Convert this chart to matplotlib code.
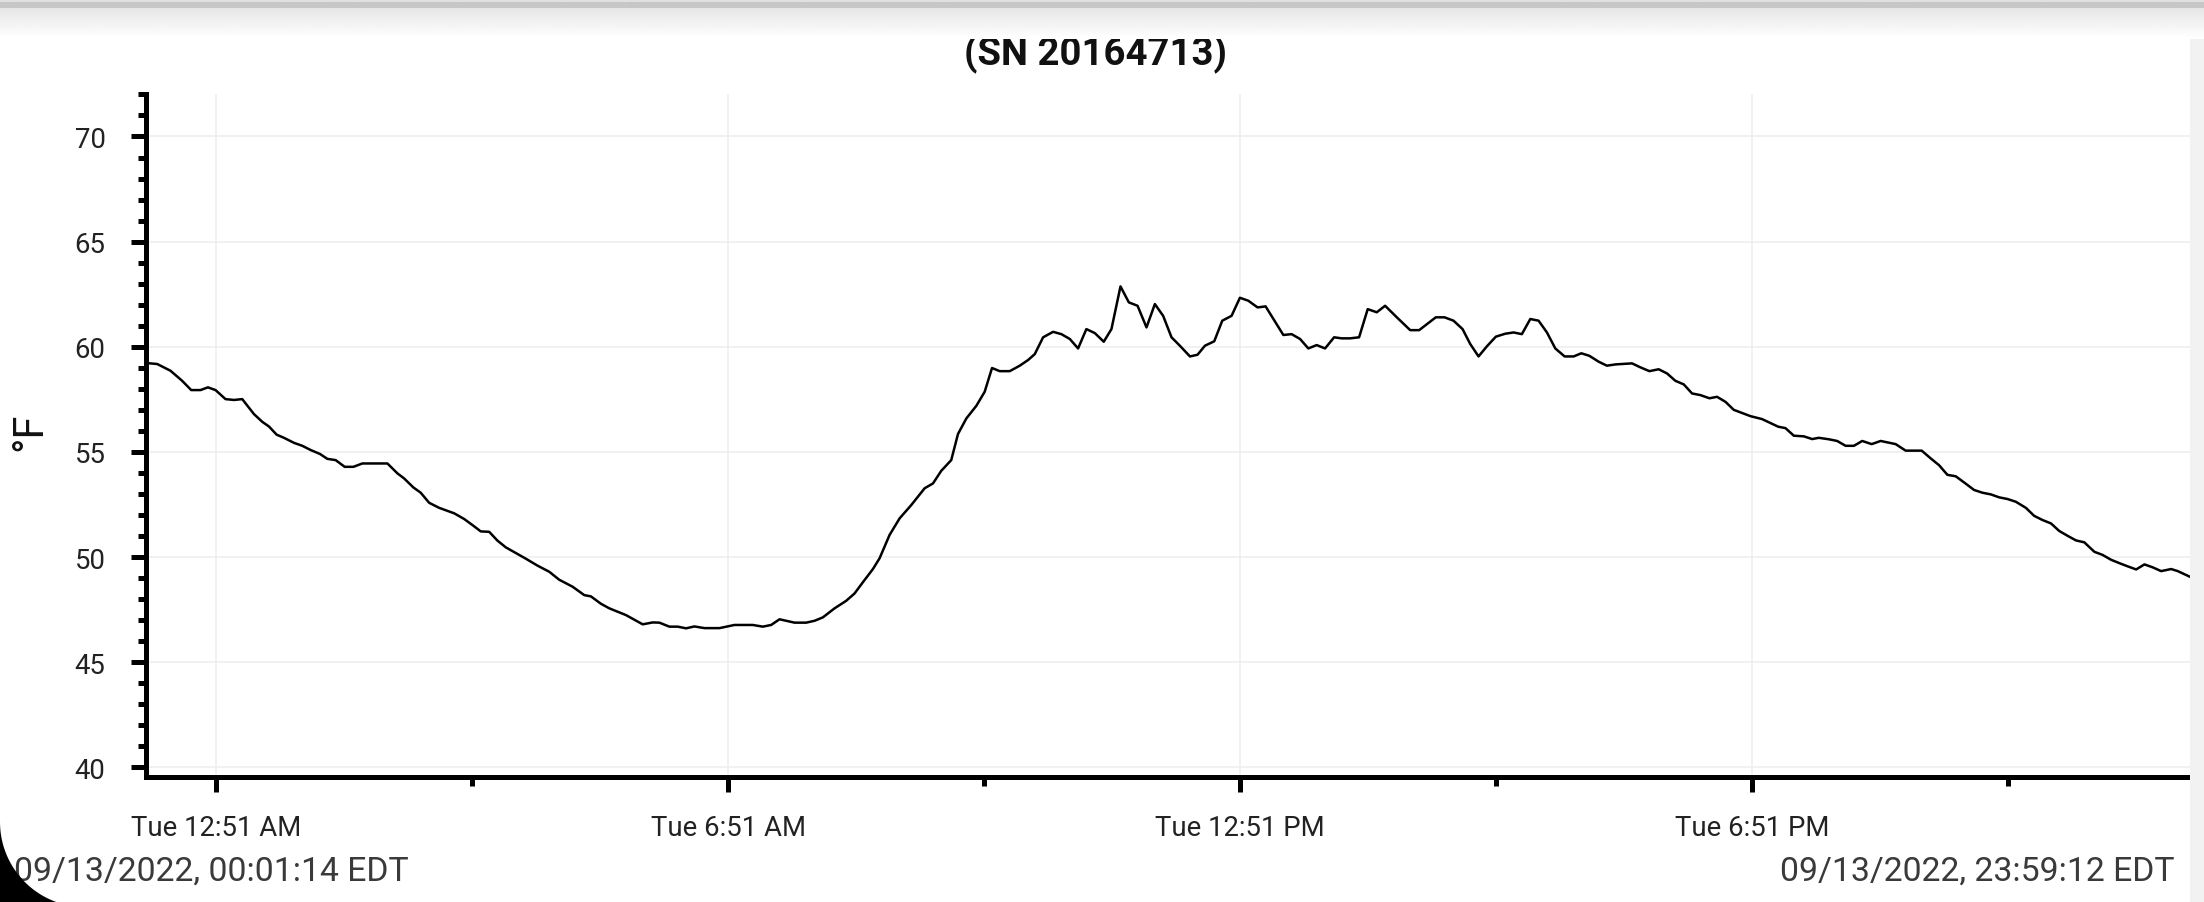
import matplotlib.pyplot as plt
import numpy as np
from matplotlib.patches import Rectangle, Polygon

plt.rcParams["font.family"] = ["Roboto", "DejaVu Sans"]

# hours since midnight, 09/13/2022
hours = [
    0.021, 0.158, 0.314, 0.451, 0.557, 0.666, 0.753, 0.842, 0.959, 1.058,
    1.155, 1.292, 1.39, 1.468, 1.558, 1.644, 1.762, 1.859, 1.957, 2.067,
    2.152, 2.25, 2.356, 2.458, 2.563, 2.857, 2.974, 3.052, 3.161, 3.247,
    3.346, 3.463, 3.639, 3.756, 3.854, 3.951, 4.05, 4.147, 4.245, 4.362,
    4.48,
    4.617, 4.754, 4.871, 5.027, 5.164, 5.242, 5.359, 5.458, 5.653, 5.849,
    5.966, 6.045, 6.162, 6.26, 6.357, 6.455, 6.573, 6.749, 6.925, 7.14,
    7.257, 7.355, 7.453, 7.629, 7.766, 7.864, 7.961, 8.098, 8.235, 8.333,
    8.43, 8.548, 8.626, 8.743, 8.861, 8.997, 9.154, 9.252, 9.349, 9.466,
    9.545, 9.643, 9.76, 9.858, 9.944, 10.034, 10.152, 10.269, 10.367, 10.445,
    10.543, 10.66, 10.757, 10.856, 10.953, 11.05, 11.149, 11.254, 11.344, 11.45,
    11.548, 11.65, 11.755, 11.853, 11.95, 12.048, 12.146, 12.264, 12.353, 12.44,
    12.549, 12.643, 12.752, 12.85, 12.948, 13.057, 13.151, 13.359, 13.456, 13.555,
    13.652, 13.75, 13.848, 13.954, 14.043,
    14.141, 14.247, 14.348, 14.454, 14.552, 14.689, 14.846, 14.951, 15.146, 15.248,
    15.354, 15.46, 15.55, 15.647, 15.745, 15.85, 15.96, 16.058, 16.155, 16.254,
    16.351, 16.449, 16.547, 16.656, 16.762, 16.852, 16.946, 17.055, 17.152, 17.251,
    17.446, 17.545, 17.65, 17.759, 17.857, 17.955, 18.053, 18.15, 18.249, 18.354,
    18.443, 18.542, 18.639, 18.737, 18.835,
    18.971, 19.069, 19.159, 19.245, 19.343, 19.46, 19.558, 19.636, 19.754, 19.851,
    19.95, 20.047, 20.145, 20.255, 20.361, 20.537, 20.654, 20.842, 20.948, 21.045,
    21.143, 21.241, 21.358, 21.456, 21.553, 21.652, 21.749, 21.847, 21.945, 22.063,
    22.16, 22.258, 22.357, 22.454, 22.552, 22.651, 22.748, 22.866, 22.963, 23.062,
    23.159, 23.255, 23.356, 23.453, 23.55, 23.649, 23.766, 23.844, 23.987,
]

temps_f = [
    59.23, 59.18, 58.86, 58.38, 57.94, 57.94, 58.07, 57.94, 57.51, 57.47,
    57.51, 56.80, 56.43, 56.21, 55.82, 55.67, 55.43, 55.29, 55.09, 54.90,
    54.67, 54.61, 54.29, 54.29, 54.45, 54.45, 53.98, 53.74, 53.31, 53.06,
    52.58, 52.34, 52.08, 51.81, 51.52, 51.22, 51.20, 50.78, 50.46, 50.19,
    49.92,
    49.59, 49.30, 48.92, 48.59, 48.19, 48.13, 47.78, 47.56, 47.24, 46.80,
    46.89, 46.88, 46.69, 46.69, 46.61, 46.70, 46.62, 46.62, 46.77, 46.77,
    46.69, 46.77, 47.04, 46.88, 46.88, 46.97, 47.13, 47.56, 47.92, 48.27,
    48.80, 49.43, 49.94, 51.05, 51.84, 52.47, 53.27, 53.50, 54.10, 54.61,
    55.85, 56.59, 57.19, 57.86, 58.99, 58.84, 58.84, 59.10, 59.37, 59.65,
    60.45, 60.71, 60.60, 60.37, 59.92, 60.84, 60.65, 60.24, 60.84, 62.87,
    62.11, 61.95, 60.92, 62.03, 61.47, 60.45, 60.05, 59.54, 59.62, 60.05,
    60.26, 61.24, 61.47, 62.33, 62.19, 61.87, 61.92, 60.56, 60.60, 60.37,
    59.92, 60.08, 59.92, 60.45, 60.40,
    60.40, 60.45, 61.79, 61.64, 61.95, 61.40, 60.79, 60.79, 61.40, 61.40,
    61.24, 60.84, 60.13, 59.54, 60.02, 60.48, 60.62, 60.68, 60.60, 61.32,
    61.24, 60.68, 59.92, 59.54, 59.54, 59.69, 59.57, 59.29, 59.10, 59.16,
    59.21, 59.02, 58.84, 58.93, 58.73, 58.38, 58.21, 57.78, 57.70, 57.55,
    57.62, 57.38, 57.00, 56.85, 56.70,
    56.56, 56.37, 56.20, 56.13, 55.77, 55.74, 55.61, 55.67, 55.60, 55.52,
    55.29, 55.29, 55.52, 55.37, 55.52, 55.37, 55.06, 55.06, 54.69, 54.37,
    53.91, 53.84, 53.49, 53.19, 53.06, 52.98, 52.84, 52.76, 52.63, 52.34,
    51.96, 51.76, 51.60, 51.24, 51.01, 50.79, 50.70, 50.25, 50.10, 49.87,
    49.71, 49.56, 49.41, 49.65, 49.51, 49.33, 49.43, 49.33, 49.06,
]

major_hours = [0.85, 6.85, 12.85, 18.85]
major_labels = ["Tue 12:51 AM", "Tue 6:51 AM", "Tue 12:51 PM", "Tue 6:51 PM"]
minor_hours = [3.85, 9.85, 15.85, 21.85]
y_ticks = [40, 45, 50, 55, 60, 65, 70]

title = "(SN 20164713)"
start_label = "09/13/2022, 00:01:14 EDT"
end_label = "09/13/2022, 23:59:12 EDT"

W, H = 2204, 903
fig = plt.figure(figsize=(W / 100, H / 100), dpi=100)
fig.set_facecolor("white")

ax = fig.add_axes([145.5 / W, 1 - 778 / H, (2190 - 145.5) / W, (778 - 95) / H])
ax.plot(hours, temps_f, color="black", linewidth=1.8, solid_joinstyle="round")

ax.set_xlim(hours[0], hours[-1])
ax.set_ylim(39.54, 72.02)
ax.set_xticks(major_hours, major_labels)
ax.set_xticks(minor_hours, minor=True)
ax.set_yticks(y_ticks)
ax.set_yticks(np.arange(40, 73, 1), minor=True)

for side in ["top", "right"]:
    ax.spines[side].set_visible(False)
for side in ["left", "bottom"]:
    ax.spines[side].set_color("black")
    ax.spines[side].set_linewidth(3.6)

ax.grid(True, which="major", color="#eeeeee", linewidth=1.1)
ax.set_axisbelow(True)

ax.tick_params(axis="x", which="major", length=10.8, width=3.6, pad=16,
               labelsize=19.8, labelcolor="#222222")
ax.tick_params(axis="x", which="minor", length=6.5, width=3.6)
ax.tick_params(axis="y", which="major", length=10.8, width=3.6, pad=18,
               labelsize=19.8, labelcolor="#222222")
ax.tick_params(axis="y", which="minor", length=5.8, width=3.6)

fig.text(30 / W, 1 - 432 / H, "°F", rotation=90, ha="center", va="center",
         fontsize=30, color="#111111")
fig.text(1095 / W, 1 - 65 / H, title, ha="center", va="baseline",
         fontsize=27.5, fontweight="bold", color="#111111")
fig.text(14 / W, 1 - 881 / H, start_label, ha="left", va="baseline",
         fontsize=24.3, color="#3a3a3a")
fig.text(2175 / W, 1 - 881 / H, end_label, ha="right", va="baseline",
         fontsize=24.3, color="#3a3a3a")

# screenshot frame: top shadow, right strip, rounded corner
ov = fig.add_axes([0, 0, 1, 1], zorder=10)
ov.patch.set_alpha(0)
band = np.ones((40, 1))
band[0:3] = 0.88
band[3:9] = 0.78
band[9:40, 0] = np.linspace(0.9, 1.0, 31)
ov.imshow(band, extent=[0, W, 40, 0], aspect="auto", cmap="gray",
          vmin=0, vmax=1, interpolation="bilinear")
ov.add_patch(Rectangle((2190, 40), W - 2190, H - 40, color="#f2f2f2", lw=0))
t = np.linspace(np.pi, np.pi / 2, 40)
corner = np.column_stack([85 + 85 * np.cos(t), 823 + 85 * np.sin(t)])
corner = np.vstack([corner, [[0, 910]]])
ov.add_patch(Polygon(corner, closed=True, color="black", lw=0))
ov.set_xlim(0, W)
ov.set_ylim(H, 0)
ov.axis("off")

plt.savefig("out.png", dpi=100, facecolor="white", edgecolor="none")
